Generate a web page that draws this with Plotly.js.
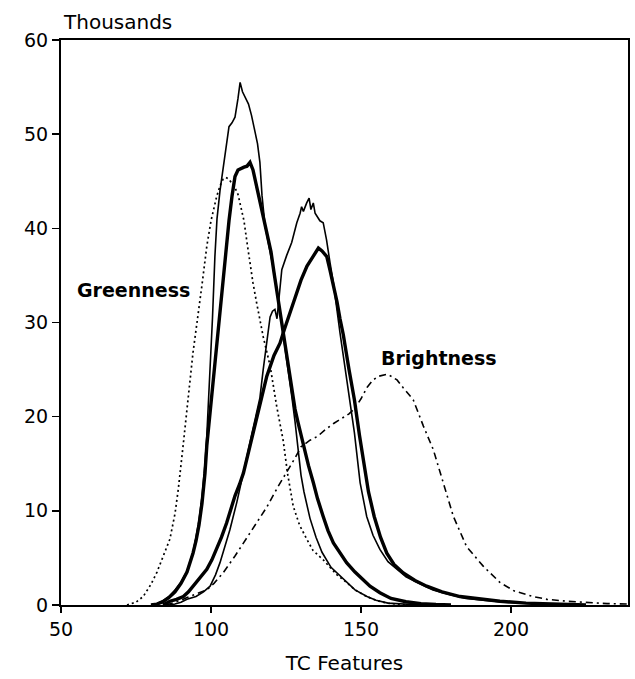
<!DOCTYPE html>
<html>
<head>
<meta charset="utf-8">
<script src="https://cdn.plot.ly/plotly-3.0.1.min.js"></script>
<style>
html,body{margin:0;padding:0;background:#fff;}
#chart{width:635px;height:679px;}
</style>
</head>
<body>
<div id="chart"></div>
<script>
// Greenness — dotted curve
var greenDotX = [72, 75, 77.4, 80, 82, 84, 86.3, 88, 89.1, 90.8, 92, 93, 94, 95, 95.8, 97, 98.6, 100, 101.9, 103, 104, 105, 106, 107, 108, 109, 110, 111, 112, 113, 114, 115.2, 116, 117.4, 119.7, 121.9, 124.1, 125.5, 127.4, 129.5, 131.9, 134, 137.4, 139.7, 142, 145.2, 148, 151.9, 155, 158.6, 163, 170];
var greenDotY = [0, 0.3, 0.9, 2.2, 3.5, 5.2, 7.0, 9.7, 12.3, 17.2, 21, 23.9, 26.8, 29.2, 31.0, 34, 38.1, 40.8, 43.4, 44.5, 45.2, 45.4, 45.2, 44.8, 44.3, 43.6, 42.2, 40.8, 38.5, 36.3, 34.2, 32.1, 30.8, 28.5, 25.4, 21.1, 17.4, 14.0, 10.5, 8.5, 7.0, 5.8, 4.8, 4.0, 3.2, 2.4, 1.6, 0.9, 0.5, 0.2, 0.05, 0];

// Greenness — thin solid curve
var greenThinX = [80, 82, 84, 86, 88, 90, 92, 94, 95, 96, 97, 98, 98.6, 99.7, 100.5, 101.3, 102, 103, 104, 105, 106, 107, 108, 109, 109.7, 110.5, 111.5, 112.5, 113.5, 114.5, 115.5, 116.3, 117, 118, 119, 120, 121, 122, 123, 124, 125, 126, 127, 128, 129, 130, 131, 132, 133, 135, 137, 140, 143, 145, 148, 152, 155, 159, 165, 170];
var greenThinY = [0, 0.15, 0.45, 0.9, 1.6, 2.4, 3.6, 5.6, 7.2, 9.0, 11.5, 15, 18, 25, 30.5, 37, 41, 44, 46.2, 48.8, 50.8, 51.2, 51.8, 53.8, 55.5, 54.5, 53.8, 53.2, 52, 50.5, 49, 47, 43.5, 40.3, 38.5, 37, 35.5, 33.5, 31.5, 29, 26.5, 24.5, 22, 19.5, 16.5, 13.8, 12, 10.4, 9.2, 7.2, 5.6, 4.0, 3.1, 2.4, 1.6, 0.9, 0.5, 0.2, 0.05, 0];

// Greenness — thick solid curve
var greenThickX = [80, 82, 84, 86, 88, 90, 92, 94, 95, 96, 97, 98, 98.6, 99.5, 100.2, 101, 102.4, 104, 105, 106, 107, 108, 109, 110, 111, 112, 113, 114, 115, 116, 117, 118, 119, 120, 121, 122, 123, 124, 125, 126, 127, 128, 129, 130, 131, 132.5, 134.1, 135.5, 137.4, 139, 140.8, 143, 145.2, 148, 150.8, 153, 156.3, 160, 165, 170, 175, 180];
var greenThickY = [0, 0.1, 0.35, 0.8, 1.4, 2.3, 3.5, 5.5, 6.8, 8.5, 10.8, 14, 16.9, 19.8, 22.2, 25, 29.3, 34, 37.5, 40.8, 43.4, 45.5, 46.2, 46.4, 46.5, 46.6, 47, 46.2, 44.8, 43.5, 42, 40.5, 39, 37.5, 35.3, 33.2, 31.2, 29.2, 26.8, 24.6, 22.6, 20.8, 19.4, 18.0, 17.0, 14.8, 13.0, 11.3, 9.4, 7.9, 6.6, 5.5, 4.5, 3.5, 2.7, 2.0, 1.3, 0.7, 0.35, 0.15, 0.05, 0];

// Brightness — thin solid curve
var brightThinX = [86, 88, 90, 92, 95, 97.5, 99.7, 101.5, 103, 104.7, 106.3, 108.6, 110.5, 112, 113.5, 115, 116.3, 117.4, 118.5, 119.7, 120.5, 121.3, 122, 122.6, 123.6, 125.2, 126.9, 128.6, 129.7, 130.2, 130.8, 131.9, 132.7, 133.3, 134.1, 134.7, 135.4, 136.3, 137.4, 138.5, 139.7, 140.8, 143, 145.2, 147.8, 149.7, 151.9, 154, 156.3, 159, 161.9, 165, 168.6, 174, 179.7, 185, 190.8, 198, 210, 225];
var brightThinY = [0, 0.1, 0.3, 0.6, 0.9, 1.4, 2.0, 3.2, 4.5, 6.3, 8.0, 10.9, 13.5, 15.8, 18, 20, 22, 25, 28, 30.6, 31.2, 31.4, 30.4, 32.5, 35.6, 37.1, 38.5, 40.6, 41.6, 42.3, 41.8, 42.7, 43.2, 42.0, 42.7, 41.6, 41.3, 40.8, 40.6, 38.8, 36.3, 34.2, 28.9, 23.9, 18.3, 13.0, 9.4, 7.4, 5.9, 4.6, 3.8, 3.0, 2.4, 1.6, 1.1, 0.7, 0.5, 0.3, 0.1, 0];

// Brightness — thick solid curve
var brightThickX = [84, 86.3, 88.5, 90.8, 92.5, 94.1, 96.5, 98.6, 100.3, 101.9, 103.5, 105.2, 106.6, 108, 109.5, 110.8, 113, 116, 118.6, 121, 123, 124.5, 126, 128, 130, 132, 134, 135.8, 137, 138.6, 139.7, 140.8, 142, 143, 144.1, 146, 147.8, 149.5, 151.1, 152.5, 154.4, 156.5, 158.6, 161, 164.1, 168, 171.9, 177, 183, 190, 196.3, 205, 215, 225];
var brightThickY = [0, 0.4, 0.6, 0.9, 1.4, 2.0, 2.9, 3.8, 4.8, 5.9, 7.2, 8.7, 10.1, 11.6, 12.8, 14.0, 16.9, 21, 24.3, 26.5, 27.8, 29.3, 30.8, 32.6, 34.5, 36.0, 37.0, 37.9, 37.6, 37.0, 35.5, 34.0, 32.2, 30.4, 28.7, 25.0, 21.8, 18, 14.7, 12, 9.4, 7.2, 5.5, 4.3, 3.4, 2.6, 2.0, 1.4, 0.9, 0.6, 0.4, 0.2, 0.1, 0];

// Brightness — dash-dot curve
var brightDashX = [85, 88, 90, 92, 95, 98.6, 101, 104, 108, 112, 115, 118.6, 122.4, 125.6, 128, 130, 133, 135.5, 138, 141, 143, 146, 148, 150, 152, 154, 156, 158.6, 160, 162, 164, 167.4, 170.8, 174.1, 177.4, 180.8, 185.2, 190.8, 196.3, 201, 207.4, 212, 218.5, 225, 232, 239];
var brightDashY = [0, 0.3, 0.5, 0.8, 1.2, 1.6, 2.3, 3.4, 5.2, 7.2, 8.7, 10.4, 12.6, 14.3, 15.6, 16.8, 17.5, 17.9, 18.6, 19.3, 19.7, 20.3, 20.9, 21.9, 23.1, 23.9, 24.3, 24.5, 24.3, 23.9, 23.1, 21.8, 19.0, 16.5, 13.0, 9.4, 6.2, 4.1, 2.4, 1.5, 0.9, 0.6, 0.4, 0.25, 0.15, 0.1];

var xTickVals = [50, 100, 150, 200];
var yTickVals = [0, 10, 20, 30, 40, 50, 60];
var labelTexts = ["Greenness", "Brightness"];
var yUnitLabel = "Thousands";
var xTitle = "TC Features";

var FONT = "DejaVu Sans, Verdana, sans-serif";

function line(x, y, w, dash) {
  return {x: x, y: y, type: "scatter", mode: "lines",
    line: {color: "#000", width: w, dash: dash, shape: "linear"},
    hoverinfo: "skip", showlegend: false};
}

var data = [
  line(greenDotX, greenDotY, 1.7, "2px,3px"),
  line(brightDashX, brightDashY, 1.6, "7px,4px,2px,4px"),
  line(greenThinX, greenThinY, 1.6, "solid"),
  line(brightThinX, brightThinY, 1.6, "solid"),
  line(greenThickX, greenThickY, 3.4, "solid"),
  line(brightThickX, brightThickY, 3.4, "solid")
];

var layout = {
  width: 635, height: 679,
  margin: {l: 61, r: 7, t: 40, b: 74, pad: 0},
  paper_bgcolor: "#fff", plot_bgcolor: "#fff",
  font: {family: FONT, color: "#000", size: 19},
  showlegend: false,
  xaxis: {
    range: [50, 239], tickvals: xTickVals, ticktext: xTickVals.map(String),
    showgrid: false, zeroline: false,
    showline: true, linecolor: "#000", linewidth: 2, mirror: true,
    ticks: "outside", ticklen: 6, tickwidth: 1.5, tickcolor: "#000",
    tickfont: {family: FONT, size: 19, color: "#000"},
    title: {text: xTitle, font: {family: FONT, size: 20, color: "#000"}, standoff: 17}
  },
  yaxis: {
    range: [0, 60], tickvals: yTickVals, ticktext: yTickVals.map(String),
    showgrid: false, zeroline: false,
    showline: true, linecolor: "#000", linewidth: 2, mirror: true,
    ticks: "outside", ticklen: 7, tickwidth: 1.5, tickcolor: "#000",
    tickfont: {family: FONT, size: 19, color: "#000"}
  },
  annotations: [
    {xref: "paper", yref: "paper", x: 0, y: 1, xanchor: "left", yanchor: "bottom",
     yshift: 4, text: yUnitLabel, showarrow: false,
     font: {family: FONT, size: 20, color: "#000"}},
    {xref: "x", yref: "y", x: 74, y: 33.4, text: "<b>" + labelTexts[0] + "</b>",
     showarrow: false, font: {family: FONT, size: 19, color: "#000"}},
    {xref: "x", yref: "y", x: 176, y: 26.25, text: "<b>" + labelTexts[1] + "</b>",
     showarrow: false, font: {family: FONT, size: 19, color: "#000"}}
  ]
};

Plotly.newPlot("chart", data, layout, {staticPlot: true, displayModeBar: false});
</script>
</body>
</html>
